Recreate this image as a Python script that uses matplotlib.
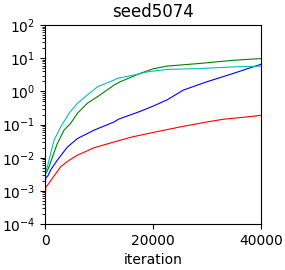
import matplotlib
matplotlib.use("Agg")
import matplotlib.pyplot as plt

red_x = [0, 150, 600, 1350, 2900, 4500, 6000, 9070, 12780, 16000, 20000, 25000, 30000, 33000, 36500, 40000]
red_y = [4e-4, 1.3e-3, 1.6e-3, 2.4e-3, 5.4e-3, 8.5e-3, 0.012, 0.020, 0.030, 0.042, 0.058, 0.085, 0.12, 0.145, 0.165, 0.19]

blue_x = [0, 150, 500, 1050, 2280, 4130, 6000, 9070, 12780, 13580, 17600, 20000, 22530, 25620, 29940, 34870, 40000]
blue_y = [1.2e-3, 2.5e-3, 2.8e-3, 4.3e-3, 8.5e-3, 0.021, 0.038, 0.068, 0.12, 0.145, 0.25, 0.36, 0.55, 1.1, 1.95, 3.5, 6.6]

green_x = [0, 150, 400, 740, 2280, 3520, 4750, 6000, 7830, 9690, 12780, 13900, 17600, 20000, 22530, 28700, 34870, 40000]
green_y = [2e-3, 3.5e-3, 4e-3, 5.4e-3, 0.027, 0.068, 0.11, 0.22, 0.44, 0.69, 1.55, 1.95, 3.5, 4.8, 5.8, 7.0, 8.7, 9.8]

cyan_x = [0, 150, 430, 1670, 2900, 4450, 6000, 7830, 9690, 12780, 13270, 16350, 19000, 22530, 28700, 34870, 40000]
cyan_y = [2.5e-3, 4e-3, 5.4e-3, 0.034, 0.085, 0.22, 0.44, 0.78, 1.38, 2.2, 2.45, 3.1, 3.9, 4.6, 4.9, 5.5, 5.8]

fig = plt.figure(figsize=(2.85, 2.7), dpi=100)
ax = fig.add_axes([0.158, 0.170, 0.758, 0.737])
ax.plot(red_x, red_y, color='r', lw=0.8)
ax.plot(blue_x, blue_y, color='b', lw=0.8)
ax.plot(green_x, green_y, color='g', lw=0.8)
ax.plot(cyan_x, cyan_y, color='c', lw=0.8)
ax.set_yscale('log')
ax.set_ylim(1e-4, 1e2)
ax.set_xlim(0, 40000)
ax.set_xticks([0, 20000, 40000])
ax.set_xlabel('iteration')
ax.set_title('seed5074')
fig.savefig('out.png', dpi=100)
